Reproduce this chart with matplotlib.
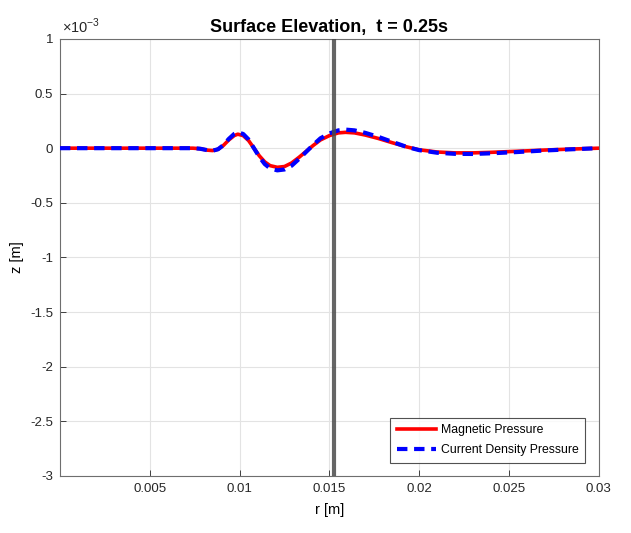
import numpy as np
import matplotlib
matplotlib.use("Agg")
import matplotlib.pyplot as plt
from matplotlib import font_manager

# surface elevation, z in units of 1e-3 m
r_mag = [0.0, 0.0070, 0.0074, 0.0078, 0.0082, 0.0085, 0.0088, 0.0091, 0.0094, 0.0097,
         0.0099, 0.0102, 0.0105, 0.0108, 0.0111, 0.0114, 0.0117, 0.0121, 0.0125, 0.0129,
         0.0133, 0.0137, 0.0141, 0.0145, 0.0150, 0.0155, 0.0159, 0.0164, 0.0170, 0.0177,
         0.0185, 0.0193, 0.0200, 0.0210, 0.0220, 0.0230, 0.0240, 0.0255, 0.0270, 0.0285, 0.0300]
z_mag = [0.0, 0.0, 0.0, -0.005, -0.018, -0.022, -0.010, 0.025, 0.075, 0.115,
         0.128, 0.115, 0.070, 0.000, -0.070, -0.125, -0.160, -0.175, -0.168, -0.135,
         -0.085, -0.030, 0.025, 0.075, 0.115, 0.140, 0.145, 0.140, 0.120, 0.090,
         0.050, 0.012, -0.015, -0.035, -0.043, -0.043, -0.038, -0.028, -0.017, -0.008, 0.0]

r_cur = r_mag
z_cur = [0.0, 0.0, 0.0, -0.005, -0.018, -0.023, -0.010, 0.028, 0.085, 0.130,
         0.145, 0.130, 0.080, 0.000, -0.080, -0.145, -0.185, -0.203, -0.195, -0.160,
         -0.100, -0.035, 0.030, 0.090, 0.135, 0.163, 0.170, 0.163, 0.140, 0.105,
         0.058, 0.012, -0.018, -0.042, -0.052, -0.053, -0.047, -0.035, -0.021, -0.010, 0.0]

r_marker = 0.01528
title = "Surface Elevation,  t = 0.25s"
xticks = [0.005, 0.01, 0.015, 0.02, 0.025, 0.03]
yticks = [-3, -2.5, -2, -1.5, -1, -0.5, 0, 0.5, 1]

names = {f.name for f in font_manager.fontManager.ttflist}
fam = "Liberation Sans Narrow" if "Liberation Sans Narrow" in names else "Liberation Sans"
plt.rcParams["font.family"] = [fam, "DejaVu Sans"]
plt.rcParams["mathtext.fontset"] = "custom"
plt.rcParams["mathtext.rm"] = fam

fig = plt.figure(figsize=(6.31, 5.33), dpi=100)
ax = fig.add_axes([0.095, 0.107, 0.854, 0.820])

ax.plot(r_mag, z_mag, color="red", lw=2.6, label="Magnetic Pressure", zorder=3)
ax.plot(r_cur, z_cur, color="blue", lw=3.0, ls=(0, (2.5, 1.6)), label="Current Density Pressure", zorder=4)
ax.axvline(r_marker, color="#4a4a4a", lw=3, alpha=0.85, zorder=5)

ax.set_xlim(0, 0.03)
ax.set_ylim(-3, 1)
ax.set_xticks(xticks)
ax.set_xticklabels([f"{v:g}" for v in xticks])
ax.set_yticks(yticks)
ax.set_yticklabels([f"{v:g}" for v in yticks])
ax.grid(True, color="#e3e3e3", lw=0.8)
ax.set_axisbelow(True)
ax.tick_params(direction="in", length=4, labelsize=9.5, colors="#262626", width=0.6, pad=5)
for s in ax.spines.values():
    s.set_color("#6e6e6e")
    s.set_linewidth(0.8)

ax.text(0.003, 1.006, r"$\times\mathrm{10}^{\mathrm{-3}}$", transform=ax.transAxes, fontsize=10.5,
        color="#262626", ha="left", va="bottom")
ax.set_title(title, fontsize=13, fontweight="bold", pad=5)
ax.set_xlabel("r [m]", fontsize=10.5, labelpad=6)
ax.set_ylabel("z [m]", fontsize=10.5, labelpad=4)

leg = ax.legend(loc="lower right", fontsize=8.8, frameon=True, fancybox=False,
                edgecolor="#262626", handlelength=3.2, borderaxespad=1.1,
                borderpad=0.55, labelspacing=0.6, handletextpad=0.4)
leg.get_frame().set_linewidth(0.8)

fig.savefig("out.png", dpi=100)
